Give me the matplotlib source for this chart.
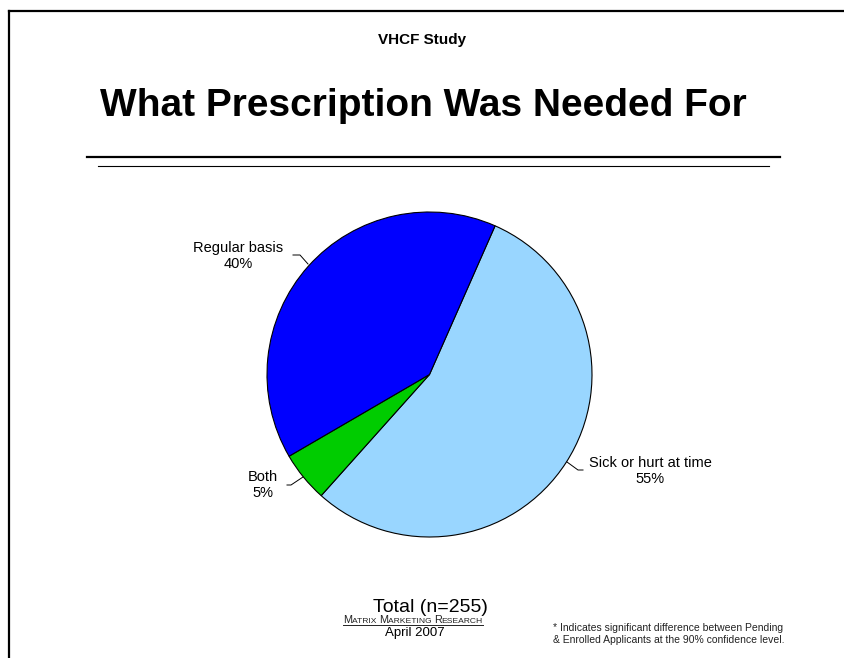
import matplotlib
matplotlib.use("Agg")
import matplotlib.pyplot as plt
from matplotlib.lines import Line2D

plt.rcParams['font.family'] = ['Liberation Sans', 'DejaVu Sans']

# ---- data ----
categories = ["Sick or hurt at time", "Both", "Regular basis"]
values = [55, 5, 40]
colors = ["#99D6FF", "#00CC00", "#0000FF"]
pct_labels = ["55%", "5%", "40%"]

W, H = 845, 658
fig = plt.figure(figsize=(W / 100, H / 100), dpi=100)
fig.patch.set_facecolor("white")


def fx(px):
    return px / W


def fy(py):
    return 1 - py / H


# frame lines (top and left)
fig.add_artist(Line2D([fx(9), fx(845)], [fy(11), fy(11)], color="black", lw=1.6))
fig.add_artist(Line2D([fx(9), fx(9)], [fy(11), fy(658)], color="black", lw=1.6))

# titles
fig.text(fx(422), fy(40), "VHCF Study", ha="center", va="center", fontsize=11, fontweight="bold")
fig.text(fx(423), fy(106), "What Prescription Was Needed For", ha="center", va="center",
         fontsize=28, fontweight="bold")
fig.add_artist(Line2D([fx(87), fx(780)], [fy(157), fy(157)], color="black", lw=1.6))
fig.add_artist(Line2D([fx(98), fx(769)], [fy(166), fy(166)], color="black", lw=0.8))

# pie
cx, cy, r = 429.5, 374.5, 162.5
ax = fig.add_axes([fx(cx - r), fy(cy + r), 2 * r / W, 2 * r / H])
ax.pie(values, colors=colors, startangle=66.2, counterclock=False, radius=1,
       wedgeprops=dict(edgecolor="black", linewidth=0.8))
ax.set_xlim(-1, 1)
ax.set_ylim(-1, 1)
ax.set_aspect("equal")
ax.axis("off")


def d(px, py):
    return ((px - cx) / r, (cy - py) / r)


label_pos = [(650, 471), (263, 485), (238, 256)]
leaders = [
    [(583, 470), (578, 470), (567, 462)],
    [(287, 485), (291, 485), (303, 477)],
    [(293, 255), (300, 255), (308, 264)],
]
for cat, pct, pos, lead in zip(categories, pct_labels, label_pos, leaders):
    tx, ty = d(*pos)
    ax.text(tx, ty, f"{cat}\n{pct}", ha="center", va="center", fontsize=10.5,
            linespacing=1.1, clip_on=False)
    xs = [d(*p)[0] for p in lead]
    ys = [d(*p)[1] for p in lead]
    ax.add_line(Line2D(xs, ys, color="black", lw=0.7, clip_on=False))

# bottom texts
fig.text(fx(430), fy(607), "Total (n=255)", ha="center", va="center", fontsize=14)

# small caps "MATRIX MARKETING RESEARCH"
fig.canvas.draw()
renderer = fig.canvas.get_renderer()
words = ["Matrix", "Marketing", "Research"]
big, small = 7.8, 6.1
pieces = []
for i, w in enumerate(words):
    pieces.append((w[0], big))
    pieces.append((w[1:].upper() + (" " if i < len(words) - 1 else ""), small))
texts = []
total_w = 0
for s, fs in pieces:
    t = fig.text(0, 0, s, fontsize=fs, ha="left", va="baseline", color="#222222")
    bb = t.get_window_extent(renderer)
    texts.append((t, bb.width))
    total_w += bb.width
x0 = 413 - total_w / 2
base_y = 623
x = x0
for t, wpx in texts:
    t.set_position((fx(x), fy(base_y)))
    x += wpx
fig.add_artist(Line2D([fx(x0), fx(x0 + total_w)], [fy(base_y + 2), fy(base_y + 2)],
                      color="#222222", lw=0.7))
fig.text(fx(415), fy(633), "April 2007", ha="center", va="center", fontsize=9.5)

fig.text(fx(553), fy(634), "* Indicates significant difference between Pending\n& Enrolled Applicants at the 90% confidence level.",
         ha="left", va="center", fontsize=7.5, linespacing=1.2, color="#222222")

fig.savefig("out.png", dpi=100)
